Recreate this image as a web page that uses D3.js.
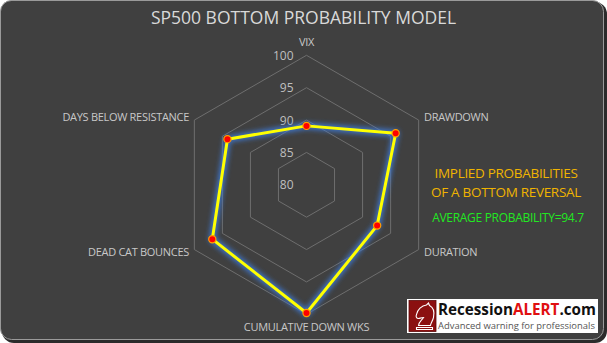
<!DOCTYPE html>
<html>
<head>
<meta charset="utf-8">
<script src="https://cdn.jsdelivr.net/npm/d3@7"></script>
<style>
  html, body { margin: 0; padding: 0; background: #ffffff; }
  svg { display: block; }
  text { font-family: "Open Sans", "Liberation Sans", sans-serif; }
</style>
</head>
<body>
<svg id="chart" width="607" height="343"></svg>
<script>
// Radar axes and the model's probability readings
const axes = ["VIX", "DRAWDOWN", "DURATION", "CUMULATIVE DOWN WKS", "DEAD CAT BOUNCES", "DAYS BELOW RESISTANCE"];
const probabilities = [89.1, 95.9, 92.6, 99.8, 96.8, 94.1];
const ringTicks = [80, 85, 90, 95, 100];
const title = "SP500 BOTTOM PROBABILITY MODEL";
const noteLines = ["IMPLIED PROBABILITIES", "OF A BOTTOM REVERSAL"];
const brandParts = [
  { text: "Recession", color: "#111111" },
  { text: "ALERT", color: "#e01010" },
  { text: ".com", color: "#111111" }
];
const tagline = "Advanced warning for professionals";
const average = d3.mean(probabilities);

const svg = d3.select("#chart");
const W = 607, H = 343;

// Card background with a soft drop edge
const defs = svg.append("defs");
const glow = defs.append("filter").attr("id", "glow")
  .attr("x", "-20%").attr("y", "-20%").attr("width", "140%").attr("height", "140%");
glow.append("feGaussianBlur").attr("in", "SourceGraphic").attr("stdDeviation", 2.4);

svg.append("rect").attr("x", 2).attr("y", 2).attr("width", W - 2).attr("height", H - 2)
  .attr("rx", 12).attr("fill", "#2b2b2b");
svg.append("rect").attr("x", 0.5).attr("y", 0.5).attr("width", W - 4).attr("height", H - 4)
  .attr("rx", 11).attr("fill", "#404040").attr("stroke", "#9a9a9a").attr("stroke-width", 1);

svg.append("text").attr("x", W / 2).attr("y", 24).attr("text-anchor", "middle")
  .attr("fill", "#d9d9d9").attr("font-size", 17.5).text(title);

// Radar geometry
const cx = 306.5, cy = 184.8;
const r = d3.scaleLinear().domain([80, 100]).range([0, 129.5]);
const angle = i => -Math.PI / 2 + i * 2 * Math.PI / axes.length;
const pt = (i, v) => [cx + r(v) * Math.cos(angle(i)), cy + r(v) * Math.sin(angle(i))];

const g = svg.append("g");

// Grid rings (hexagons)
ringTicks.filter(t => t > 80).forEach(t => {
  g.append("path")
    .attr("d", d3.line()(axes.map((a, i) => pt(i, t))) + "Z")
    .attr("fill", "none").attr("stroke", "#6e6e6e").attr("stroke-width", 1);
});

// Ring value labels along the VIX spoke
g.selectAll("text.tick").data(ringTicks).join("text")
  .attr("class", "tick")
  .attr("x", cx - 13).attr("y", d => cy - r(d) + 4.5)
  .attr("text-anchor", "end").attr("fill", "#bfbfbf").attr("font-size", 12)
  .text(d => d);

// Axis category labels
const labelPos = [
  { x: cx, y: 46, anchor: "middle" },
  { x: 424, y: 121, anchor: "start" },
  { x: 424, y: 256, anchor: "start" },
  { x: cx, y: 331, anchor: "middle" },
  { x: 189, y: 256, anchor: "end" },
  { x: 189, y: 121, anchor: "end" }
];
g.selectAll("text.axis").data(axes).join("text")
  .attr("class", "axis")
  .attr("x", (d, i) => labelPos[i].x).attr("y", (d, i) => labelPos[i].y)
  .attr("text-anchor", (d, i) => labelPos[i].anchor)
  .attr("fill", "#c8c8c8").attr("font-size", 11).attr("letter-spacing", -0.3)
  .text(d => d);

// Series polygon with blue glow
const poly = d3.line()(probabilities.map((v, i) => pt(i, v))) + "Z";
g.append("path").attr("d", poly).attr("fill", "none")
  .attr("stroke", "#3d7bdc").attr("stroke-width", 7).attr("stroke-opacity", 0.85)
  .attr("stroke-linejoin", "round").attr("filter", "url(#glow)");
g.append("path").attr("d", poly).attr("fill", "none")
  .attr("stroke", "#ffff00").attr("stroke-width", 3).attr("stroke-linejoin", "round");

g.selectAll("circle.mk").data(probabilities).join("circle")
  .attr("class", "mk")
  .attr("cx", (d, i) => pt(i, d)[0]).attr("cy", (d, i) => pt(i, d)[1])
  .attr("r", 3.6).attr("fill", "#ff0000").attr("stroke", "#ffa000").attr("stroke-width", 1.2);

// Side note
svg.selectAll("text.note").data(noteLines).join("text")
  .attr("class", "note")
  .attr("x", 506).attr("y", (d, i) => 178 + i * 18.5)
  .attr("text-anchor", "middle").attr("fill", "#f0b400").attr("font-size", 13.5)
  .attr("letter-spacing", -0.3)
  .text(d => d);
svg.append("text").attr("x", 508).attr("y", 222).attr("text-anchor", "middle")
  .attr("fill", "#22e822").attr("font-size", 12).attr("letter-spacing", -0.3)
  .text("AVERAGE PROBABILITY=" + d3.format(".1f")(average));

// Publisher badge
const logo = svg.append("g").attr("transform", "translate(407,299)");
logo.append("rect").attr("width", 191).attr("height", 34).attr("fill", "#ffffff");
logo.append("rect").attr("x", 2).attr("y", 1.5).attr("width", 27).attr("height", 31)
  .attr("fill", "#8b1010").attr("stroke", "#5a0a0a").attr("stroke-width", 0.8);
// knight silhouette outline
logo.append("path")
  .attr("d", "M8,15 C9,10 13,6 18,5.5 L20,3.5 L21,6 C25,8 26,13 25,18 C24,22 22,24 22,26 L10,26 C10,23 13,21 15,18 C13,18 11,19 10,19 C8,19 7,17 8,15 Z M8,28 L24,28 L24,30 L8,30 Z")
  .attr("transform", "translate(1.5,0.5)")
  .attr("fill", "none").attr("stroke", "#ffffff").attr("stroke-width", 1.1);

// brand name: pieces laid side by side, sized to fill the badge width
const brandFont = "'Liberation Sans Narrow', 'Liberation Sans', sans-serif";
const fitSize = (texts, target, base, weight) => {
  const probe = logo.append("text").attr("font-family", brandFont)
    .attr("font-weight", weight).attr("font-size", base).text(texts.join(""));
  const w = probe.node().getComputedTextLength();
  probe.remove();
  return base * target / w;
};
const brandSize = Math.min(18, fitSize(brandParts.map(p => p.text), 158, 17, "bold"));
let bx = 31;
brandParts.forEach(p => {
  const t = logo.append("text").attr("x", bx).attr("y", 16)
    .attr("font-family", brandFont).attr("font-weight", "bold")
    .attr("font-size", brandSize).attr("fill", p.color).text(p.text);
  bx += t.node().getComputedTextLength();
});
const tagSize = Math.min(12, fitSize([tagline], 157, 11, "normal"));
logo.append("text").attr("x", 31).attr("y", 30)
  .attr("font-family", brandFont).attr("font-size", tagSize)
  .attr("fill", "#555555").text(tagline);
</script>
</body>
</html>
